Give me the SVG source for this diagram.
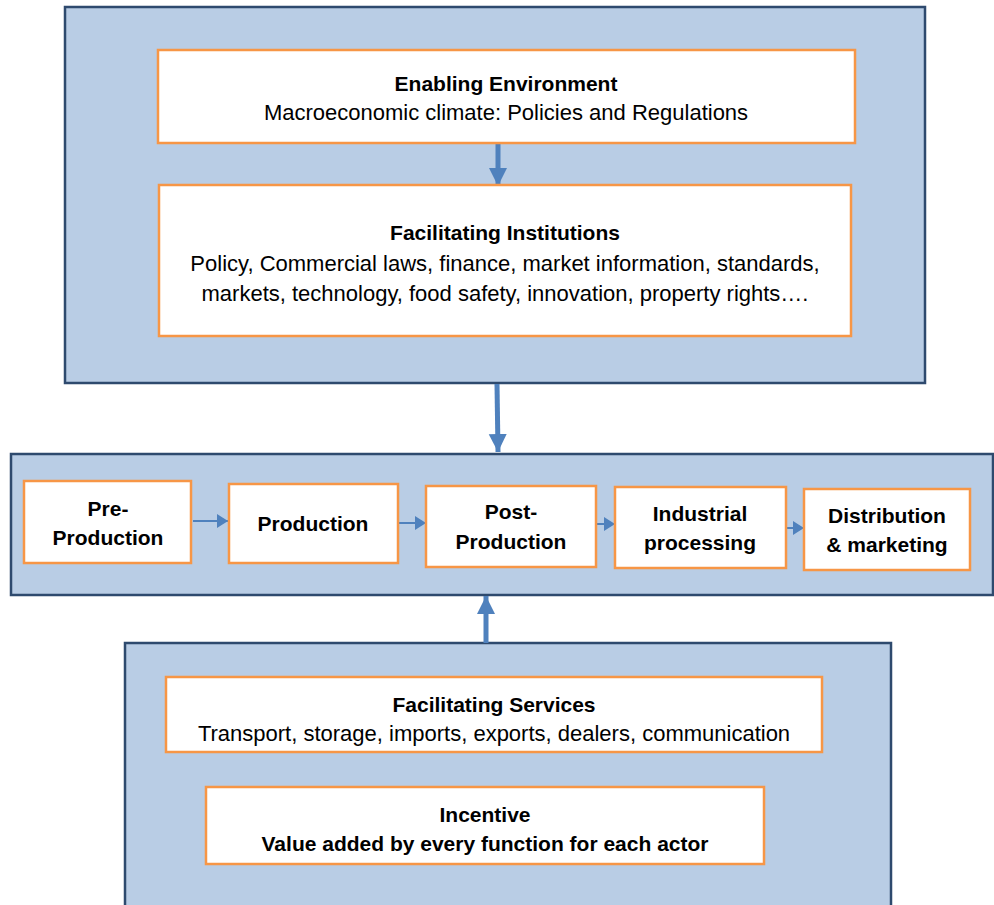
<svg xmlns="http://www.w3.org/2000/svg" width="994" height="905" viewBox="0 0 994 905">
<defs>
<style>
.outer{fill:#B9CDE5;stroke:#2E4A6E;stroke-width:2.5}
.node{fill:#FFFFFF;stroke:#F79646;stroke-width:2.5}
text{font-family:"Liberation Sans",Arial,sans-serif;font-size:22px;fill:#000;text-anchor:middle}
.b{font-weight:bold;font-size:21px}
.big{stroke:#4F81BD;stroke-width:5;fill:none}
.small{stroke:#4F81BD;stroke-width:2;fill:none}
</style>
<marker id="ah" markerUnits="userSpaceOnUse" markerWidth="20" markerHeight="20" refX="18" refY="9" orient="auto"><path d="M0,0 L18,9 L0,18 Z" fill="#4F81BD"/></marker>
<marker id="as" markerUnits="userSpaceOnUse" markerWidth="12" markerHeight="14" refX="11" refY="7" orient="auto"><path d="M0,0 L11,7 L0,14 Z" fill="#4F81BD"/></marker>
</defs>
<g id="containers">
<rect class="outer" x="65" y="7" width="860" height="376"/>
<rect class="outer" x="11" y="454" width="982" height="141"/>
<rect class="outer" x="125" y="643" width="766" height="270"/>
</g>
<g id="connectors">
<line class="big" x1="498" y1="143" x2="498" y2="186" marker-end="url(#ah)"/>
<line class="big" x1="497" y1="384" x2="498" y2="452" marker-end="url(#ah)"/>
<line class="big" x1="486" y1="643" x2="486" y2="596" marker-end="url(#ah)"/>
<line class="small" x1="193" y1="521" x2="228" y2="521" marker-end="url(#as)"/>
<line class="small" x1="396" y1="523" x2="426" y2="523" marker-end="url(#as)"/>
<line class="small" x1="596" y1="524" x2="615" y2="524" marker-end="url(#as)"/>
<line class="small" x1="777" y1="528" x2="804" y2="528" marker-end="url(#as)"/>
</g>
<g id="enabling-environment">
<rect class="node" x="158" y="50" width="697" height="93"/>
<text class="b" x="506" y="91">Enabling Environment</text>
<text x="506" y="120">Macroeconomic climate: Policies and Regulations</text>
</g>
<g id="facilitating-institutions">
<rect class="node" x="159" y="185" width="692" height="151"/>
<text class="b" x="505" y="240">Facilitating Institutions</text>
<text x="505" y="271">Policy, Commercial laws, finance, market information, standards,</text>
<text x="505" y="301">markets, technology, food safety, innovation, property rights….</text>
</g>
<g id="pre-production">
<rect class="node" x="24" y="481" width="167" height="82"/>
<text class="b" x="108" y="516">Pre-</text>
<text class="b" x="108" y="545">Production</text>
</g>
<g id="production">
<rect class="node" x="229" y="484" width="169" height="79"/>
<text class="b" x="313" y="531">Production</text>
</g>
<g id="post-production">
<rect class="node" x="426" y="486" width="170" height="81"/>
<text class="b" x="511" y="519">Post-</text>
<text class="b" x="511" y="549">Production</text>
</g>
<g id="industrial-processing">
<rect class="node" x="615" y="487" width="171" height="81"/>
<text class="b" x="700" y="521">Industrial</text>
<text class="b" x="700" y="550">processing</text>
</g>
<g id="distribution-marketing">
<rect class="node" x="804" y="489" width="166" height="81"/>
<text class="b" x="887" y="523">Distribution</text>
<text class="b" x="887" y="552">&amp; marketing</text>
</g>
<g id="facilitating-services">
<rect class="node" x="166" y="677" width="656" height="75"/>
<text class="b" x="494" y="712">Facilitating Services</text>
<text x="494" y="741">Transport, storage, imports, exports, dealers, communication</text>
</g>
<g id="incentive">
<rect class="node" x="206" y="787" width="558" height="77"/>
<text class="b" x="485" y="822">Incentive</text>
<text class="b" x="485" y="851">Value added by every function for each actor</text>
</g>
</svg>
